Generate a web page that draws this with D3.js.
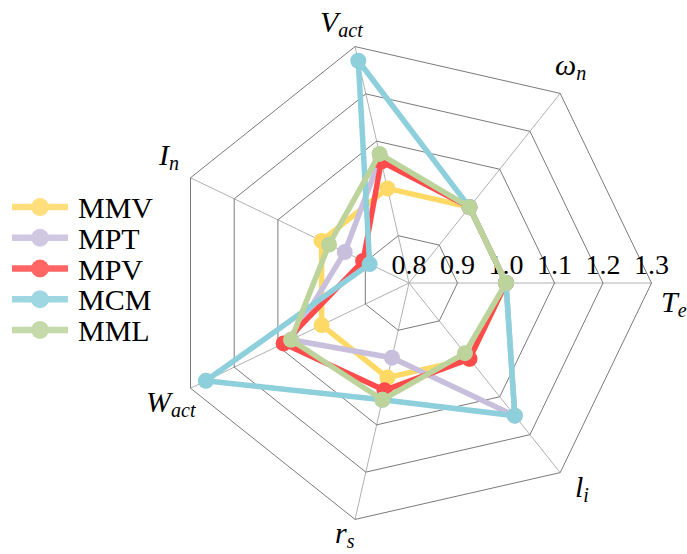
<!DOCTYPE html>
<html><head><meta charset="utf-8">
<script src="https://cdn.jsdelivr.net/npm/d3@7"></script>
<style>body{margin:0;background:#fff}svg{display:block}</style>
</head><body><svg id="c" width="687" height="554"></svg>
<script>
const axes = [
  {main:"T", sub:"e"}, {main:"ω", sub:"n"}, {main:"V", sub:"act"}, {main:"I", sub:"n"},
  {main:"W", sub:"act"}, {main:"r", sub:"s"}, {main:"l", sub:"i"}
];
const ticks = [0.8, 0.9, 1.0, 1.1, 1.2, 1.3];
const seriesNames = ["MMV", "MPT", "MPV", "MCM", "MML"];
const MMV = [1.0, 1.0, 1.0, 1.0, 1.0, 1.0, 1.0];
const MPT = [1.0, 1.0, 1.065, 0.947, 1.07, 0.958, 1.15];
const MPV = [1.0, 1.0, 1.057, 0.905, 1.087, 1.027, 1.0];
const MCM = [1.0, 1.0, 1.27, 0.89, 1.265, 1.047, 1.15];
const MML = [1.0, 1.0, 1.073, 0.983, 1.07, 1.047, 0.985];
const seriesValues = [MMV, MPT, MPV, MCM, MML];
const colors = ["#FFD966", "#C8BFDC", "#FF4B4B", "#8ECFDC", "#BDD39C"];

const svg = d3.select("#c");
const cx = 409, cy = 283, R = 242.5;
const r = d3.scaleLinear().domain([0.8, 1.3]).range([0, R]);
const n = axes.length;
const ang = i => -i * 2 * Math.PI / n; // screen angle, CCW from east
const pt = (i, v) => [cx + r(v) * Math.cos(ang(i)), cy + r(v) * Math.sin(ang(i))];

const g = svg.append("g");
// spokes
axes.forEach((a, i) => {
  const [x, y] = pt(i, 1.3);
  g.append("line").attr("x1", cx).attr("y1", cy).attr("x2", x).attr("y2", y)
    .attr("stroke", "#b0b0b0").attr("stroke-width", 1);
});
// rings
ticks.filter(t => t > 0.8).forEach(t => {
  const pts = axes.map((a, i) => pt(i, t));
  g.append("polygon").attr("points", pts.map(p => p.join(",")).join(" "))
    .attr("fill", "none").attr("stroke", "#7a7a7a").attr("stroke-width", 1);
});
// tick labels
ticks.forEach(t => {
  const [x, y] = pt(0, t);
  g.append("text").attr("x", x).attr("y", y - 9).attr("text-anchor", "middle")
    .attr("font-family", "Liberation Serif").attr("font-size", 28).attr("fill", "#000").text(t.toFixed(1));
});
// axis labels
const labelPos = [[661, 312], [555, 75], [320, 32], [159, 165], [146, 412], [335, 543], [575, 497]];
axes.forEach((a, i) => {
  const t = g.append("text").attr("x", labelPos[i][0]).attr("y", labelPos[i][1])
    .attr("font-family", "Liberation Serif").attr("font-style", "italic").attr("font-size", 30).attr("fill", "#000");
  t.append("tspan").text(a.main);
  t.append("tspan").attr("font-size", 20).attr("dy", 5).text(a.sub);
});
// series
const line = d3.line().curve(d3.curveLinearClosed);
seriesValues.forEach((vals, s) => {
  const pts = vals.map((v, i) => pt(i, v));
  g.append("path").attr("d", line(pts)).attr("fill", "none").attr("stroke", colors[s])
    .attr("stroke-width", 5.5).attr("stroke-linejoin", "round");
  pts.forEach(p => g.append("circle").attr("cx", p[0]).attr("cy", p[1]).attr("r", 8).attr("fill", colors[s]));
});
// legend
const ly = d3.scaleLinear().domain([0, 4]).range([207, 330]);
seriesNames.forEach((nm, s) => {
  const y = ly(s);
  const lg = svg.append("g").attr("opacity", 0.85);
  lg.append("line").attr("x1", 12).attr("x2", 68).attr("y1", y).attr("y2", y)
    .attr("stroke", colors[s]).attr("stroke-width", 6.5);
  lg.append("circle").attr("cx", 40).attr("cy", y).attr("r", 9).attr("fill", colors[s]);
  svg.append("text").attr("x", 78).attr("y", y + 11).attr("font-family", "Liberation Serif")
    .attr("font-size", 30).attr("fill", "#000").text(nm);
});
</script></body></html>
